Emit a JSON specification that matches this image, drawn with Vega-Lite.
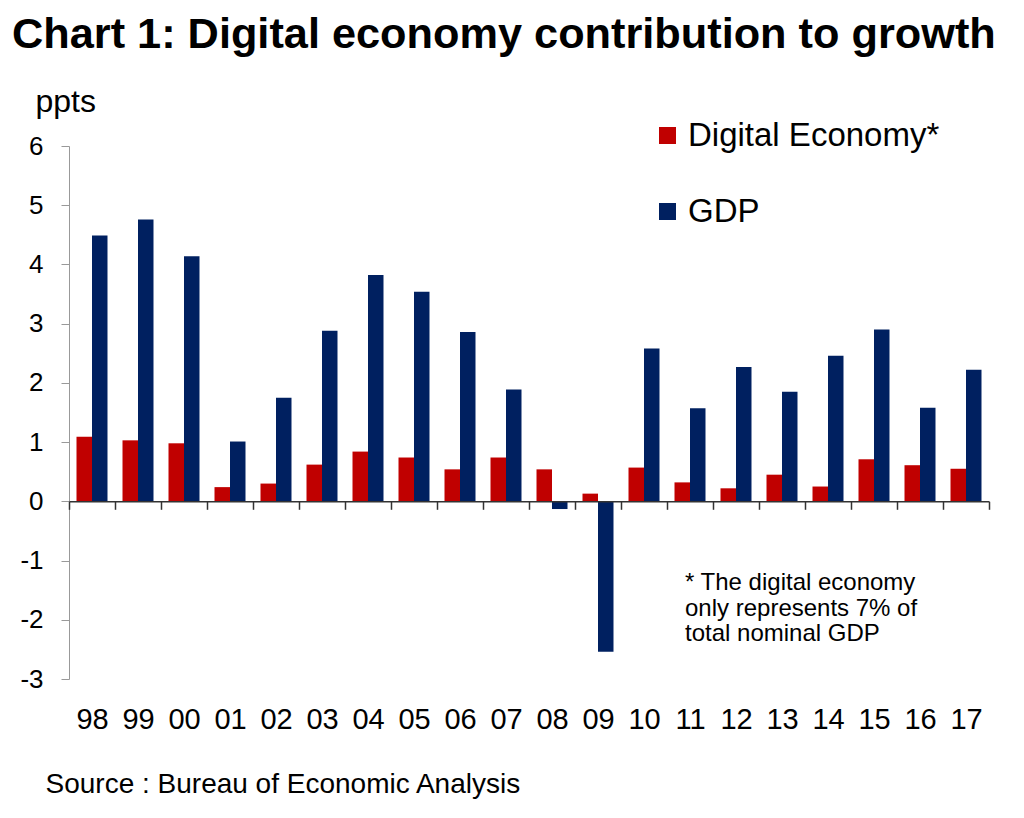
{
  "$schema": "https://vega.github.io/schema/vega-lite/v6.json",
  "width": 920,
  "height": 533,
  "autosize": "none",
  "padding": {"left": 69, "top": 146, "right": 35, "bottom": 139},
  "background": "white",
  "config": {"view": {"stroke": null}, "font": "Liberation Sans", "text": {"font": "Liberation Sans"}},
  "title": {"text": "Chart 1: Digital economy contribution to growth", "anchor": "start", "frame": "group", "fontSize": 43.3, "fontWeight": "bold", "font": "Liberation Sans", "color": "black", "dx": -57, "offset": 28},
  "layer": [
    {
      "data": {"values": [
        {"year": "98", "series": "Digital Economy*", "value": 1.09}, {"year": "98", "series": "GDP", "value": 4.49},
        {"year": "99", "series": "Digital Economy*", "value": 1.03}, {"year": "99", "series": "GDP", "value": 4.76},
        {"year": "00", "series": "Digital Economy*", "value": 0.98}, {"year": "00", "series": "GDP", "value": 4.14},
        {"year": "01", "series": "Digital Economy*", "value": 0.24}, {"year": "01", "series": "GDP", "value": 1.01},
        {"year": "02", "series": "Digital Economy*", "value": 0.30}, {"year": "02", "series": "GDP", "value": 1.75},
        {"year": "03", "series": "Digital Economy*", "value": 0.62}, {"year": "03", "series": "GDP", "value": 2.88},
        {"year": "04", "series": "Digital Economy*", "value": 0.84}, {"year": "04", "series": "GDP", "value": 3.82},
        {"year": "05", "series": "Digital Economy*", "value": 0.74}, {"year": "05", "series": "GDP", "value": 3.54},
        {"year": "06", "series": "Digital Economy*", "value": 0.54}, {"year": "06", "series": "GDP", "value": 2.86},
        {"year": "07", "series": "Digital Economy*", "value": 0.74}, {"year": "07", "series": "GDP", "value": 1.89},
        {"year": "08", "series": "Digital Economy*", "value": 0.54}, {"year": "08", "series": "GDP", "value": -0.13},
        {"year": "09", "series": "Digital Economy*", "value": 0.13}, {"year": "09", "series": "GDP", "value": -2.54},
        {"year": "10", "series": "Digital Economy*", "value": 0.57}, {"year": "10", "series": "GDP", "value": 2.58},
        {"year": "11", "series": "Digital Economy*", "value": 0.32}, {"year": "11", "series": "GDP", "value": 1.57},
        {"year": "12", "series": "Digital Economy*", "value": 0.22}, {"year": "12", "series": "GDP", "value": 2.27},
        {"year": "13", "series": "Digital Economy*", "value": 0.45}, {"year": "13", "series": "GDP", "value": 1.85},
        {"year": "14", "series": "Digital Economy*", "value": 0.25}, {"year": "14", "series": "GDP", "value": 2.46},
        {"year": "15", "series": "Digital Economy*", "value": 0.71}, {"year": "15", "series": "GDP", "value": 2.90},
        {"year": "16", "series": "Digital Economy*", "value": 0.61}, {"year": "16", "series": "GDP", "value": 1.58},
        {"year": "17", "series": "Digital Economy*", "value": 0.55}, {"year": "17", "series": "GDP", "value": 2.22}
      ]},
      "mark": {"type": "bar"},
      "encoding": {
        "x": {
          "field": "year", "type": "nominal", "sort": null,
          "scale": {"paddingInner": 0, "paddingOuter": 0},
          "axis": {
            "title": "Source : Bureau of Economic Analysis",
            "titleX": -24, "titleY": 291, "titleAlign": "left", "titleBaseline": "alphabetic",
            "titleFontSize": 28, "titleFontWeight": "normal", "titleColor": "black", "titleFont": "Liberation Sans",
            "offset": -177.7, "labelAngle": 0, "labelFontSize": 29, "labelPadding": 196, "labelColor": "black",
            "labelFont": "Liberation Sans",
            "tickSize": 8, "tickColor": "#333333", "domainColor": "#333333", "domainWidth": 1.5, "tickWidth": 1.5,
            "tickBand": "extent", "zindex": 1, "grid": false
          }
        },
        "xOffset": {"field": "series", "type": "nominal", "sort": ["Digital Economy*", "GDP"], "scale": {"paddingInner": 0, "paddingOuter": 0.484}},
        "y": {
          "field": "value", "type": "quantitative",
          "scale": {"domain": [-3, 6], "nice": false, "zero": false},
          "axis": {
            "title": "ppts", "titleAngle": 0, "titleAlign": "left", "titleBaseline": "alphabetic",
            "titleX": -34, "titleY": -35, "titleFontSize": 32, "titleFontWeight": "normal", "titleColor": "black", "titleFont": "Liberation Sans",
            "values": [-3, -2, -1, 0, 1, 2, 3, 4, 5, 6], "labelExpr": "'' + datum.value",
            "tickSize": 8, "tickColor": "#999999", "domainColor": "#999999", "labelFontSize": 26, "labelPadding": 18,
            "labelColor": "black", "labelFont": "Liberation Sans", "grid": false
          }
        },
        "color": {
          "field": "series", "type": "nominal",
          "scale": {"domain": ["Digital Economy*", "GDP"], "range": ["#C00000", "#002060"]},
          "legend": {
            "orient": "none", "legendX": 582, "legendY": -27, "title": null, "symbolType": "square",
            "symbolSize": 289, "symbolStrokeWidth": 0, "labelFontSize": 33, "labelOffset": 4, "rowPadding": 42,
            "labelLimit": 0, "labelColor": "black", "labelFont": "Liberation Sans"
          }
        }
      }
    },
    {
      "data": {"values": [{"note": "* The digital economy\nonly represents 7% of\ntotal nominal GDP"}]},
      "mark": {"type": "text", "align": "left", "baseline": "alphabetic", "fontSize": 24, "lineBreak": "\n", "lineHeight": 25.5, "dx": -5, "color": "black"},
      "encoding": {
        "x": {"datum": "11"},
        "y": {"datum": -1.5},
        "text": {"field": "note"}
      }
    }
  ]
}
